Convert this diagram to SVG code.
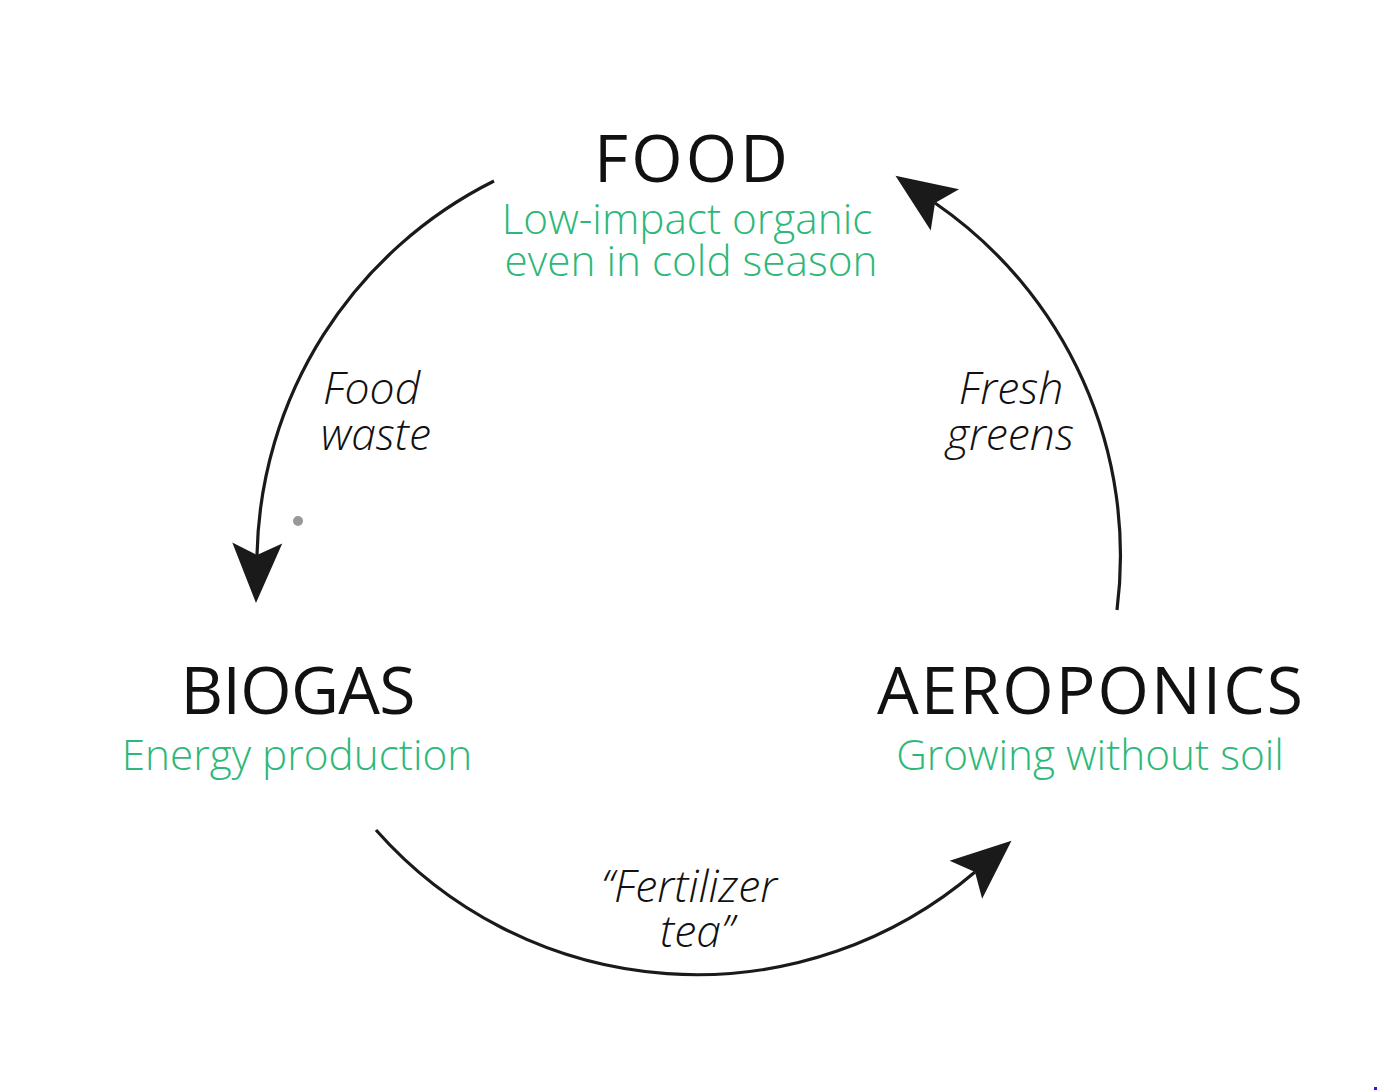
<svg xmlns="http://www.w3.org/2000/svg" width="1378" height="1092" viewBox="0 0 1378 1092">
<defs>
<style>
.title{font-family:"Open Sans","Liberation Sans",sans-serif;font-size:66px;fill:#111;text-anchor:middle}
.sub{font-family:"Open Sans","Liberation Sans",sans-serif;font-weight:300;font-size:42.3px;fill:#2db87a;text-anchor:middle}
.lbl{font-family:"Open Sans","Liberation Sans",sans-serif;font-weight:300;font-style:italic;font-size:44.5px;fill:#111}
.arc{fill:none;stroke:#1a1a1a;stroke-width:3.2;marker-end:url(#ah)}
</style>
<marker id="ah" markerUnits="userSpaceOnUse" markerWidth="80" markerHeight="80" refX="0" refY="0" viewBox="-20 -40 80 80" orient="auto" overflow="visible">
<path d="M48,0 L-12,-25 L0,0 L-12,25 Z" fill="#1a1a1a"/>
</marker>
</defs>
<rect width="1378" height="1092" fill="#fff"/>
<g id="connectors">
<path class="arc" d="M494,181 A428,428 0 0 0 257,555"/>
<path class="arc" d="M376,830 A428,428 0 0 0 975,872"/>
<path class="arc" d="M1117,610 A428,428 0 0 0 935,203"/>
</g>
<g id="food">
<text class="title" x="691" y="182" textLength="194" lengthAdjust="spacing">FOOD</text>
<text class="sub" x="687" y="234">Low-impact organic</text>
<text class="sub" x="691" y="276">even in cold season</text>
</g>
<g id="biogas">
<text class="title" x="298" y="714" textLength="235" lengthAdjust="spacing">BIOGAS</text>
<text class="sub" x="297" y="770">Energy production</text>
</g>
<g id="aeroponics">
<text class="title" x="1090" y="714" textLength="426" lengthAdjust="spacing">AEROPONICS</text>
<text class="sub" x="1090" y="770">Growing without soil</text>
</g>
<g id="label-food-waste">
<text class="lbl" x="323" y="404">Food</text>
<text class="lbl" x="321" y="450">waste</text>
</g>
<g id="label-fresh-greens">
<text class="lbl" x="1011" y="404" text-anchor="middle">Fresh</text>
<text class="lbl" x="1010" y="450" text-anchor="middle">greens</text>
</g>
<g id="label-fertilizer-tea">
<text class="lbl" x="689" y="902" text-anchor="middle">“Fertilizer</text>
<text class="lbl" x="697" y="947" text-anchor="middle">tea”</text>
</g>
<circle cx="298" cy="521" r="5" fill="#999"/>
<rect x="1374" y="1087" width="3" height="3" fill="#1a1aff"/>
</svg>
